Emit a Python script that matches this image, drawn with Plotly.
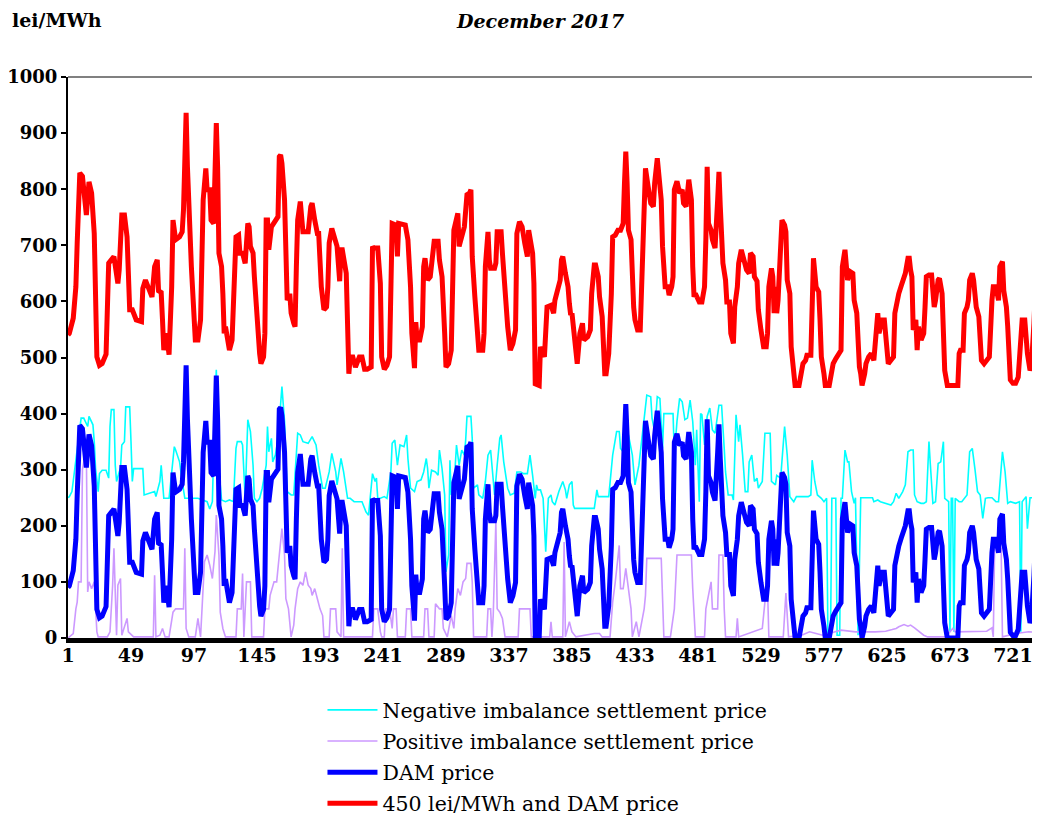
import plotly.graph_objects as go

# ---------------- data (hour of month, lei/MWh) ----------------
dam_points = [
    (1, 90), (2, 93), (5, 120), (7, 176), (8, 254), (9, 325), (10, 379), (12, 373), (13, 349), (15, 304),
    (17, 363), (19, 343), (21, 271), (22, 170), (23, 51), (25, 36), (27, 39), (30, 56), (31, 169), (32, 218),
    (34, 224), (36, 230), (39, 182), (40, 206), (42, 304), (44, 304), (46, 265), (47, 200), (48, 135), (50, 135),
    (53, 117), (57, 114), (58, 173), (60, 188), (63, 169), (65, 158), (67, 212), (69, 224), (70, 169), (72, 166),
    (73, 117), (74, 63), (76, 93), (78, 55), (80, 176), (81, 295), (83, 260), (86, 265), (88, 274), (89, 313),
    (91, 486), (92, 390), (95, 212), (96, 176), (98, 81), (100, 81), (102, 117), (104, 331), (106, 387), (107, 349),
    (109, 349), (110, 295), (112, 289), (114, 468), (115, 390), (116, 236), (118, 212), (119, 164), (120, 93), (121, 105),
    (123, 75), (124, 63), (126, 81), (127, 164), (128, 169), (129, 265), (131, 268), (132, 236), (134, 236), (136, 218),
    (138, 289), (139, 283), (140, 248), (142, 236), (143, 194), (144, 158), (145, 105), (147, 57), (148, 39), (150, 51),
    (151, 93), (152, 295), (153, 295), (154, 242), (156, 283), (158, 289), (161, 301), (162, 408), (163, 411), (164, 396),
    (166, 331), (167, 242), (168, 152), (170, 164), (171, 129), (173, 111), (174, 105), (175, 212), (176, 295), (178, 328),
    (180, 274), (182, 274), (184, 274), (186, 319), (187, 325), (189, 295), (191, 271), (192, 271), (193, 224), (194, 176),
    (196, 135), (198, 140), (199, 176), (200, 254), (202, 280), (204, 260), (206, 248), (208, 186), (209, 242), (210, 242),
    (211, 224), (213, 200), (215, 21), (216, 51), (218, 51), (220, 33), (223, 51), (225, 51), (227, 29), (229, 29),
    (232, 33), (233, 248), (234, 245), (237, 245), (239, 182), (240, 51), (242, 29), (244, 36), (246, 51), (247, 152),
    (248, 289), (251, 286), (252, 230), (253, 289), (256, 286), (258, 286), (260, 260), (262, 176), (263, 93), (265, 31),
    (266, 113), (267, 81), (269, 81), (271, 105), (272, 212), (273, 227), (275, 188), (277, 194), (280, 257), (283, 257),
    (284, 224), (286, 194), (288, 93), (289, 33), (291, 39), (293, 63), (295, 277), (298, 307), (299, 248), (301, 265),
    (303, 283), (305, 340), (307, 343), (308, 349), (309, 230), (311, 158), (312, 129), (314, 63), (317, 63), (318, 93),
    (319, 212), (321, 274), (322, 224), (323, 209), (326, 209), (327, 218), (328, 274), (331, 274), (332, 236), (333, 200),
    (336, 105), (338, 63), (340, 75), (342, 99), (343, 271), (345, 292), (347, 283), (349, 254), (351, 230), (352, 277),
    (355, 236), (356, 182), (357, 3), (360, 0), (361, 69), (364, 51), (366, 140), (369, 143), (371, 129), (372, 152),
    (374, 169), (376, 188), (377, 224), (378, 230), (380, 200), (382, 176), (383, 146), (384, 126), (385, 129), (386, 105),
    (388, 51), (389, 39), (391, 93), (393, 111), (394, 81), (397, 87), (399, 99), (400, 164), (402, 215), (403, 215),
    (405, 194), (406, 158), (408, 123), (409, 45), (410, 21), (411, 21), (413, 57), (415, 164), (416, 265), (418, 268),
    (420, 277), (422, 277), (424, 289), (425, 361), (426, 417), (427, 361), (428, 277), (430, 260), (431, 188), (432, 140),
    (433, 117), (435, 99), (437, 99), (438, 169), (439, 260), (440, 376), (441, 387), (443, 355), (445, 325), (447, 319),
    (448, 361), (450, 405), (451, 373), (453, 331), (454, 248), (455, 188), (456, 176), (458, 176), (459, 161), (461, 176),
    (462, 194), (463, 349), (465, 364), (467, 343), (469, 349), (470, 325), (472, 319), (474, 367), (476, 331), (477, 212),
    (478, 158), (479, 164), (481, 152), (482, 149), (484, 149), (486, 176), (487, 260), (488, 390), (489, 289), (491, 277),
    (492, 260), (494, 245), (496, 331), (497, 381), (498, 319), (500, 218), (502, 188), (503, 149), (505, 149), (506, 93),
    (508, 75), (509, 140), (511, 176), (512, 218), (514, 242), (515, 233), (517, 218), (518, 206), (520, 200), (521, 236),
    (523, 230), (524, 194), (526, 186), (527, 135), (529, 99), (531, 69), (533, 69), (534, 93), (535, 176), (537, 209),
    (538, 194), (539, 129), (540, 176), (541, 129), (542, 152), (544, 242), (545, 295), (547, 286), (548, 274), (549, 188),
    (551, 164), (552, 69), (554, 27), (555, 0), (558, 0), (559, 15), (561, 39), (563, 45), (564, 54), (567, 54),
    (568, 164), (569, 227), (571, 176), (573, 167), (574, 117), (575, 51), (577, 21), (578, 0), (581, 0), (582, 15),
    (584, 39), (586, 48), (588, 57), (590, 63), (591, 212), (593, 242), (595, 188), (597, 203), (599, 200), (600, 152),
    (602, 129), (603, 75), (604, 33), (605, 21), (606, 0), (608, 21), (609, 39), (611, 51), (613, 57), (615, 45),
    (617, 117), (618, 129), (619, 93), (621, 117), (623, 117), (624, 81), (626, 39), (628, 45), (630, 51), (631, 129),
    (632, 140), (633, 158), (634, 164), (636, 179), (637, 186), (639, 200), (641, 227), (642, 227), (643, 206), (644, 194),
    (645, 99), (647, 117), (648, 63), (649, 105), (651, 81), (653, 93), (654, 140), (655, 194), (657, 197), (659, 197),
    (661, 140), (662, 152), (664, 188), (665, 191), (667, 164), (668, 63), (669, 27), (671, 0), (675, 0), (679, 0),
    (680, 57), (681, 63), (683, 63), (684, 129), (686, 140), (687, 152), (688, 188), (690, 200), (691, 188), (693, 140),
    (695, 123), (696, 81), (697, 45), (699, 39), (702, 51), (703, 51), (705, 152), (706, 176), (708, 176), (710, 152),
    (711, 212), (713, 221), (714, 169), (716, 140), (717, 105), (718, 57), (719, 10), (721, 4), (723, 4), (725, 15),
    (727, 75), (728, 117), (730, 117), (732, 57), (734, 27), (735, 33), (737, 111), (738, 169), (740, 129), (741, 33),
    (742, 75), (744, 50),
]

dam_plus_450_points = [
    (1, 540), (2, 543), (5, 570), (7, 626), (8, 704), (9, 775), (10, 829), (12, 823), (13, 799), (15, 754),
    (17, 813), (19, 793), (21, 721), (22, 620), (23, 501), (25, 486), (27, 489), (30, 506), (31, 619), (32, 668),
    (34, 674), (36, 680), (39, 632), (40, 656), (42, 754), (44, 754), (46, 715), (47, 650), (48, 585), (50, 585),
    (53, 567), (57, 564), (58, 623), (60, 638), (63, 619), (65, 608), (67, 662), (69, 674), (70, 619), (72, 616),
    (73, 567), (74, 513), (76, 543), (78, 505), (80, 626), (81, 745), (83, 710), (86, 715), (88, 724), (89, 763),
    (91, 936), (92, 840), (95, 662), (96, 626), (98, 531), (100, 531), (102, 567), (104, 781), (106, 837), (107, 799),
    (109, 799), (110, 745), (112, 739), (114, 918), (115, 840), (116, 686), (118, 662), (119, 614), (120, 543), (121, 555),
    (123, 525), (124, 513), (126, 531), (127, 614), (128, 619), (129, 715), (131, 718), (132, 686), (134, 686), (136, 668),
    (138, 739), (139, 733), (140, 698), (142, 686), (143, 644), (144, 608), (145, 555), (147, 507), (148, 489), (150, 501),
    (151, 543), (152, 745), (153, 745), (154, 692), (156, 733), (158, 739), (161, 751), (162, 858), (163, 861), (164, 846),
    (166, 781), (167, 692), (168, 602), (170, 614), (171, 579), (173, 561), (174, 555), (175, 662), (176, 745), (178, 778),
    (180, 724), (182, 724), (184, 724), (186, 769), (187, 775), (189, 745), (191, 721), (192, 721), (193, 674), (194, 626),
    (196, 585), (198, 590), (199, 626), (200, 704), (202, 730), (204, 710), (206, 698), (208, 636), (209, 692), (210, 692),
    (211, 674), (213, 650), (215, 471), (216, 501), (218, 501), (220, 483), (223, 501), (225, 501), (227, 479), (229, 479),
    (232, 483), (233, 698), (234, 695), (237, 695), (239, 632), (240, 501), (242, 479), (244, 486), (246, 501), (247, 602),
    (248, 739), (251, 736), (252, 680), (253, 739), (256, 736), (258, 736), (260, 710), (262, 626), (263, 543), (265, 481),
    (266, 563), (267, 531), (269, 531), (271, 555), (272, 662), (273, 677), (275, 638), (277, 644), (280, 707), (283, 707),
    (284, 674), (286, 644), (288, 543), (289, 483), (291, 489), (293, 513), (295, 727), (298, 757), (299, 698), (301, 715),
    (303, 733), (305, 790), (307, 793), (308, 799), (309, 680), (311, 608), (312, 579), (314, 513), (317, 513), (318, 543),
    (319, 662), (321, 724), (322, 674), (323, 659), (326, 659), (327, 668), (328, 724), (331, 724), (332, 686), (333, 650),
    (336, 555), (338, 513), (340, 525), (342, 549), (343, 721), (345, 742), (347, 733), (349, 704), (351, 680), (352, 727),
    (355, 686), (356, 632), (357, 453), (360, 450), (361, 519), (364, 501), (366, 590), (369, 593), (371, 579), (372, 602),
    (374, 619), (376, 638), (377, 674), (378, 680), (380, 650), (382, 626), (383, 596), (384, 576), (385, 579), (386, 555),
    (388, 501), (389, 489), (391, 543), (393, 561), (394, 531), (397, 537), (399, 549), (400, 614), (402, 665), (403, 665),
    (405, 644), (406, 608), (408, 573), (409, 495), (410, 471), (411, 471), (413, 507), (415, 614), (416, 715), (418, 718),
    (420, 727), (422, 727), (424, 739), (425, 811), (426, 867), (427, 811), (428, 727), (430, 710), (431, 638), (432, 590),
    (433, 567), (435, 549), (437, 549), (438, 619), (439, 710), (440, 826), (441, 837), (443, 805), (445, 775), (447, 769),
    (448, 811), (450, 855), (451, 823), (453, 781), (454, 698), (455, 638), (456, 626), (458, 626), (459, 611), (461, 626),
    (462, 644), (463, 799), (465, 814), (467, 793), (469, 799), (470, 775), (472, 769), (474, 817), (476, 781), (477, 662),
    (478, 608), (479, 614), (481, 602), (482, 599), (484, 599), (486, 626), (487, 710), (488, 840), (489, 739), (491, 727),
    (492, 710), (494, 695), (496, 781), (497, 831), (498, 769), (500, 668), (502, 638), (503, 599), (505, 599), (506, 543),
    (508, 525), (509, 590), (511, 626), (512, 668), (514, 692), (515, 683), (517, 668), (518, 656), (520, 650), (521, 686),
    (523, 680), (524, 644), (526, 636), (527, 585), (529, 549), (531, 519), (533, 519), (534, 543), (535, 626), (537, 659),
    (538, 644), (539, 579), (540, 626), (541, 579), (542, 602), (544, 692), (545, 745), (547, 736), (548, 724), (549, 638),
    (551, 614), (552, 519), (554, 477), (555, 450), (558, 450), (559, 465), (561, 489), (563, 495), (564, 504), (567, 504),
    (568, 614), (569, 677), (571, 626), (573, 617), (574, 567), (575, 501), (577, 471), (578, 450), (581, 450), (582, 465),
    (584, 489), (586, 498), (588, 507), (590, 513), (591, 662), (593, 692), (595, 638), (597, 653), (599, 650), (600, 602),
    (602, 579), (603, 525), (604, 483), (605, 471), (606, 450), (608, 471), (609, 489), (611, 501), (613, 507), (615, 495),
    (617, 567), (618, 579), (619, 543), (621, 567), (623, 567), (624, 531), (626, 489), (628, 495), (630, 501), (631, 579),
    (632, 590), (633, 608), (634, 614), (636, 629), (637, 636), (639, 650), (641, 677), (642, 677), (643, 656), (644, 644),
    (645, 549), (647, 567), (648, 513), (649, 555), (651, 531), (653, 543), (654, 590), (655, 644), (657, 647), (659, 647),
    (661, 590), (662, 602), (664, 638), (665, 641), (667, 614), (668, 513), (669, 477), (671, 450), (675, 450), (679, 450),
    (680, 507), (681, 513), (683, 513), (684, 579), (686, 590), (687, 602), (688, 638), (690, 650), (691, 638), (693, 590),
    (695, 573), (696, 531), (697, 495), (699, 489), (702, 501), (703, 501), (705, 602), (706, 626), (708, 626), (710, 602),
    (711, 662), (713, 671), (714, 619), (716, 590), (717, 555), (718, 507), (719, 460), (721, 454), (723, 454), (725, 465),
    (727, 525), (728, 567), (730, 567), (732, 507), (734, 477), (735, 483), (737, 561), (738, 619), (740, 579), (741, 483),
    (742, 525), (744, 500),
]

negative_imbalance_points = [
    (1, 250), (2, 252), (4, 261), (6, 300), (11, 392), (13, 392), (14, 386), (16, 377), (17, 395), (20, 380),
    (21, 350), (22, 302), (24, 261), (25, 293), (27, 299), (30, 299), (32, 285), (33, 377), (34, 407), (36, 407),
    (37, 308), (38, 279), (40, 296), (41, 302), (42, 344), (44, 350), (45, 412), (48, 412), (49, 350), (50, 279),
    (51, 302), (58, 302), (59, 255), (63, 258), (67, 261), (68, 252), (71, 279), (72, 308), (73, 279), (74, 249),
    (78, 249), (82, 341), (83, 335), (85, 320), (86, 314), (88, 279), (90, 249), (100, 249), (107, 243), (109, 230),
    (111, 243), (113, 420), (114, 478), (116, 300), (118, 246), (121, 243), (124, 246), (127, 243), (129, 338), (130, 350),
    (133, 350), (134, 344), (136, 249), (138, 389), (140, 368), (142, 308), (143, 249), (145, 243), (147, 249), (149, 267),
    (152, 308), (153, 377), (154, 332), (156, 356), (157, 314), (159, 326), (161, 356), (162, 386), (164, 448), (166, 386),
    (167, 326), (168, 261), (171, 255), (173, 255), (176, 365), (178, 362), (180, 350), (184, 347), (187, 359), (190, 344),
    (192, 308), (195, 267), (197, 267), (200, 296), (202, 329), (205, 296), (206, 273), (209, 320), (211, 296), (214, 249),
    (216, 249), (219, 243), (222, 243), (225, 243), (228, 225), (230, 219), (233, 293), (235, 279), (236, 285), (237, 249),
    (239, 249), (242, 252), (244, 249), (247, 296), (248, 347), (250, 353), (252, 308), (254, 344), (257, 341), (259, 362),
    (260, 320), (262, 267), (265, 261), (267, 279), (270, 282), (272, 296), (274, 320), (275, 302), (276, 267), (278, 299),
    (281, 296), (283, 290), (284, 335), (286, 302), (288, 255), (289, 118), (291, 148), (292, 317), (293, 255), (295, 267),
    (297, 344), (299, 308), (301, 335), (303, 326), (304, 353), (305, 395), (308, 395), (309, 356), (310, 267), (313, 273),
    (314, 255), (317, 249), (319, 279), (321, 326), (323, 335), (324, 308), (326, 255), (328, 308), (330, 356), (331, 362),
    (333, 314), (336, 267), (338, 255), (341, 258), (343, 296), (346, 296), (348, 293), (351, 293), (353, 326), (355, 290),
    (357, 249), (358, 273), (359, 264), (361, 264), (363, 249), (365, 154), (367, 249), (369, 255), (370, 243), (372, 237),
    (374, 255), (375, 261), (378, 279), (380, 264), (381, 249), (383, 273), (385, 279), (386, 237), (387, 231), (392, 231),
    (396, 231), (400, 231), (402, 231), (404, 264), (405, 252), (408, 252), (413, 252), (416, 326), (418, 350), (419, 368),
    (421, 368), (422, 338), (424, 332), (426, 356), (428, 362), (431, 326), (433, 273), (436, 308), (438, 350), (440, 392),
    (442, 433), (445, 430), (446, 392), (448, 368), (450, 430), (452, 427), (454, 338), (455, 400), (459, 400), (462, 400),
    (463, 326), (465, 386), (467, 427), (469, 421), (471, 389), (473, 392), (475, 424), (477, 386), (479, 308), (480, 371),
    (482, 243), (483, 400), (484, 398), (486, 344), (488, 395), (490, 410), (492, 371), (494, 365), (497, 415), (499, 415),
    (501, 338), (502, 296), (504, 255), (507, 255), (508, 246), (510, 398), (512, 350), (513, 380), (515, 326), (517, 261),
    (519, 261), (520, 314), (522, 326), (524, 279), (526, 285), (527, 267), (530, 279), (532, 365), (536, 365), (537, 279),
    (540, 273), (541, 290), (544, 285), (546, 344), (547, 377), (549, 326), (551, 252), (554, 243), (556, 252), (560, 252),
    (565, 252), (567, 255), (568, 317), (570, 279), (572, 255), (575, 249), (577, 243), (579, 249), (580, 5), (582, 5),
    (583, 249), (586, 249), (587, 5), (589, 5), (590, 249), (591, 249), (593, 335), (595, 314), (596, 314), (598, 261),
    (600, 240), (601, 250), (603, 5), (605, 250), (609, 250), (614, 250), (615, 243), (618, 246), (620, 243), (624, 240),
    (628, 237), (630, 243), (632, 258), (634, 249), (637, 261), (639, 273), (641, 332), (643, 335), (645, 335), (646, 255),
    (648, 243), (651, 240), (653, 240), (655, 243), (657, 350), (658, 311), (660, 240), (662, 243), (664, 311), (666, 314),
    (668, 350), (669, 249), (672, 243), (673, 11), (674, 249), (675, 249), (676, 11), (677, 249), (680, 243), (682, 243),
    (684, 249), (686, 255), (688, 332), (690, 338), (692, 302), (694, 261), (696, 255), (698, 213), (700, 249), (702, 250),
    (705, 250), (708, 243), (710, 243), (713, 332), (715, 296), (717, 240), (719, 243), (723, 240), (726, 243), (727, 11),
    (728, 243), (731, 252), (732, 195), (734, 250), (737, 250), (742, 250), (744, 250),
]

positive_imbalance_points = [
    (1, 0), (2, 2), (5, 8), (7, 52), (8, 64), (9, 100), (11, 100), (12, 300), (14, 326), (15, 330),
    (16, 82), (17, 100), (19, 88), (21, 100), (23, 11), (24, 2), (31, 2), (33, 11), (35, 94), (36, 160),
    (37, 94), (38, 5), (39, 94), (41, 106), (42, 5), (45, 29), (46, 35), (47, 11), (51, 2), (66, 2),
    (67, 112), (68, 2), (71, 5), (73, 17), (75, 2), (78, 2), (81, 46), (83, 52), (89, 52), (90, 160),
    (91, 17), (93, 2), (98, 2), (100, 35), (102, 2), (105, 136), (107, 148), (109, 130), (111, 106), (113, 154),
    (114, 219), (116, 148), (117, 46), (119, 17), (121, 2), (129, 2), (130, 52), (133, 52), (134, 115), (135, 2),
    (137, 100), (140, 100), (141, 2), (150, 2), (151, 52), (154, 52), (155, 76), (158, 100), (160, 100), (162, 148),
    (164, 195), (166, 148), (167, 70), (169, 52), (171, 2), (173, 23), (174, 52), (176, 88), (178, 100), (180, 94),
    (182, 118), (184, 94), (186, 88), (187, 76), (189, 88), (191, 70), (193, 52), (195, 40), (196, 2), (200, 2),
    (201, 52), (205, 52), (206, 11), (209, 2), (210, 160), (211, 2), (233, 2), (234, 52), (237, 52), (239, 11),
    (240, 2), (242, 2), (243, 52), (246, 52), (248, 17), (249, 52), (251, 52), (252, 2), (258, 2), (259, 52),
    (262, 52), (263, 2), (272, 2), (273, 52), (275, 52), (276, 2), (280, 2), (281, 61), (284, 52), (286, 52),
    (287, 17), (290, 2), (292, 29), (293, 40), (295, 17), (296, 52), (298, 88), (300, 76), (302, 100), (304, 106),
    (305, 133), (308, 133), (309, 100), (310, 2), (320, 2), (321, 52), (323, 52), (324, 2), (325, 40), (327, 207),
    (328, 52), (330, 46), (332, 35), (334, 2), (344, 2), (345, 52), (353, 52), (354, 2), (368, 2), (369, 29),
    (370, 2), (378, 2), (379, 171), (380, 2), (383, 29), (385, 11), (388, 2), (402, 8), (406, 8), (408, 2),
    (414, 2), (416, 64), (418, 100), (421, 165), (422, 88), (424, 88), (426, 124), (428, 88), (430, 52), (431, 2),
    (434, 29), (436, 2), (440, 52), (441, 76), (442, 142), (453, 142), (454, 52), (455, 2), (460, 2), (463, 52),
    (465, 148), (476, 148), (477, 88), (478, 52), (479, 2), (486, 2), (487, 52), (489, 76), (491, 100), (492, 52),
    (496, 52), (497, 148), (500, 148), (501, 52), (502, 2), (510, 2), (511, 35), (512, 2), (530, 17), (532, 64),
    (534, 88), (535, 2), (546, 2), (548, 80), (550, 2), (560, 5), (566, 11), (571, 8), (576, 5), (590, 14),
    (596, 12), (601, 11), (616, 11), (624, 12), (629, 15), (632, 17), (634, 20), (638, 24), (641, 21), (643, 23),
    (646, 18), (648, 14), (651, 8), (653, 5), (656, 2), (670, 2), (672, 8), (675, 17), (677, 11), (687, 11),
    (695, 11), (701, 12), (705, 18), (706, 2), (707, 160), (712, 160), (713, 2), (718, 5), (723, 8), (733, 11),
    (744, 10),
]

x_tick_hours = [1, 49, 97, 145, 193, 241, 289, 337, 385, 433, 481, 529, 577, 625, 673, 721]
y_tick_values = [0, 100, 200, 300, 400, 500, 600, 700, 800, 900, 1000]

series_names = [
    "Negative imbalance settlement price",
    "Positive imbalance settlement price",
    "DAM price",
    "450 lei/MWh and DAM price",
]

# ---------------- figure ----------------
SERIF = "DejaVu Serif"


def split(points):
    xs, ys = zip(*points)
    return list(xs), list(ys)


fig = go.Figure()

styles = [
    dict(color="#00FFFF", width=1.6),
    dict(color="#CC99FF", width=1.6),
    dict(color="#0000FF", width=5),
    dict(color="#FF0000", width=5),
]
datasets = [negative_imbalance_points, positive_imbalance_points, dam_points, dam_plus_450_points]

for i, (name, pts, st) in enumerate(zip(series_names, datasets, styles)):
    xs, ys = split(pts)
    fig.add_trace(go.Scatter(
        x=xs, y=ys, mode="lines", name=name, legendgroup=f"g{i}",
        line=dict(color=st["color"], width=st["width"]),
        hoverinfo="skip",
    ))

# The page body has an 8px default margin, so the figure is sized 8px smaller
# than the window and the plot area offsets are reduced accordingly.
fig.update_layout(
    width=1032, height=813,
    margin=dict(l=60, r=0, t=69, b=183, autoexpand=False),
    paper_bgcolor="white", plot_bgcolor="white",
    showlegend=True,
    legend=dict(
        x=0.2618, y=-0.0927, xanchor="left", yanchor="top",
        font=dict(family=SERIF, size=20.5, color="black"),
        itemwidth=50, bgcolor="rgba(0,0,0,0)", borderwidth=0,
        traceorder="grouped", tracegroupgap=1.5,
    ),
    xaxis=dict(
        range=[1, 741.6],
        tickmode="array", tickvals=x_tick_hours, ticktext=[str(v) for v in x_tick_hours],
        showgrid=False, zeroline=False,
        showline=True, linecolor="black", linewidth=5,
        ticks="", ticklabelstandoff=-4,
        tickfont=dict(family=SERIF, size=19, color="black", weight="bold"),
        layer="below traces",
    ),
    yaxis=dict(
        range=[0, 1000],
        tickmode="array", tickvals=y_tick_values,
        showgrid=False, zeroline=False,
        showline=True, linecolor="black", linewidth=2,
        ticks="outside", ticklen=5, tickwidth=1.5, tickcolor="black",
        tickfont=dict(family=SERIF, size=18, color="black", weight="bold"),
        layer="below traces",
    ),
    shapes=[
        dict(type="line", xref="paper", yref="paper", x0=0, x1=1, y0=1, y1=1,
             line=dict(color="#808080", width=2), layer="below"),
    ],
    annotations=[
        dict(text="<b><i>December 2017</i></b>", xref="paper", yref="paper",
             x=0.4856, y=1.1225, xanchor="center", yanchor="top", showarrow=False,
             font=dict(family=SERIF, size=19, color="black")),
        dict(text="<b>lei/MWh</b>", xref="paper", yref="paper",
             x=-0.0597, y=1.1016, xanchor="left", yanchor="middle", showarrow=False,
             font=dict(family=SERIF, size=19, color="black")),
    ],
)

fig.write_html("out.html")
